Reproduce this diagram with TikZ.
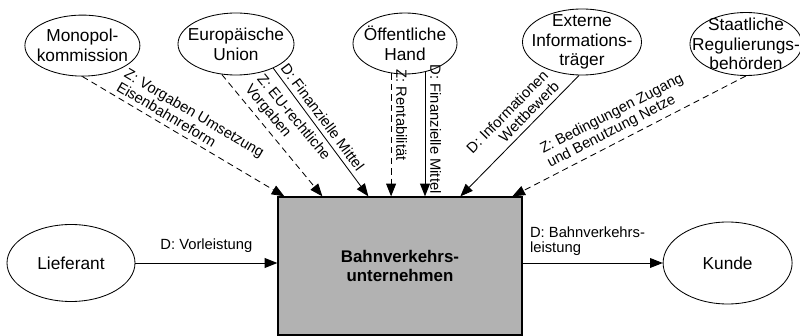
\documentclass[tikz,border=0pt]{standalone}
\usepackage{fontspec}
\setmainfont{Liberation Sans}
\usetikzlibrary{arrows.meta,shapes.geometric}

\begin{document}
\begin{tikzpicture}[
    party/.style={draw, ellipse, inner sep=0pt, line width=0.6pt},
    partytext/.style={align=center, font=\fontsize{12.3}{14}\selectfont},
    flow/.style={-{Triangle[length=9pt,width=7pt]}, line width=0.6pt},
    goal/.style={flow, dash pattern=on 4.5pt off 3pt},
    lbl/.style={font=\fontsize{10.5}{11}\selectfont},
    along/.style={lbl, sloped, above}
  ]
  \useasboundingbox (0,0) rectangle (20,8.4);
  % Unternehmen in der Mitte
  \node [draw, line width=0.9pt, fill=black!30, minimum width=6.1cm, minimum height=3.45cm,
         align=center, font=\fontsize{12}{13.5}\selectfont\bfseries] (bvu) at (10,1.75)
        {Bahnverkehrs-\\unternehmen};
  % Akteure rundherum
  \foreach \name/\pos/\ew/\eh/\txt in {
      mono/{2.06,7.26}/2.875/1.525/{Monopol-\\kommission},
      eu/{5.9,7.3}/2.9/1.55/{Europäische\\Union},
      oeff/{10.125,7.3125}/2.6/1.525/{Öffentliche\\Hand},
      ext/{14.55,7.35}/2.975/1.65/{Externe\\Informations-\\träger},
      reg/{18.65,7.3}/2.8/1.575/{Staatliche\\Regulierungs-\\behörden},
      lief/{1.775,1.825}/3.2/1.925/{Lieferant},
      kunde/{18.19,1.825}/3.225/2.05/{Kunde}} {
    \node [party, minimum width=\ew cm, minimum height=\eh cm] (\name) at (\pos) {};
    \node [partytext] (\name-txt) at (\name) {\txt};
  }
  % Z = Zielvorgaben (gestrichelt), D = Leistungen (durchgezogen)
  \draw [goal] (mono.south) -- node [along, pos=0.49, align=left]
        {Z: Vorgaben Umsetzung\\Eisenbahnreform} ([xshift=0.175cm]bvu.north west);
  \draw [goal] (eu.245) -- node [along, pos=0.5, align=left]
        {Z: EU-rechtliche\\Vorgaben} ([xshift=1.125cm]bvu.north west);
  \draw [flow] (eu.-33) -- node [along, pos=0.43]
        {D: Finanzielle Mittel} ([xshift=2.275cm]bvu.north west);
  \draw [goal] (oeff.245) -- node [lbl, pos=0.34, rotate=-90, anchor=south]
        {Z: Rentabilität} (oeff.245 |- bvu.north);
  \draw [flow] (oeff.305) -- node [lbl, pos=0.46, rotate=-90, anchor=south]
        {D: Finanzielle Mittel} (oeff.305 |- bvu.north);
  \draw [flow] (ext.265) -- node [along, pos=0.45, align=right]
        {D: Informationen\\Wettbewerb} ([xshift=4.575cm]bvu.north west);
  \draw [goal] (reg.south) -- node [along, pos=0.52, align=left]
        {Z: Bedingungen Zugang\\und Benutzung Netze} ([xshift=5.875cm]bvu.north west);
  \draw [flow] (lief) -- node [lbl, above=4pt] {D: Vorleistung} (lief -| bvu.west);
  \draw [flow] (bvu.east |- kunde) -- node [lbl, pos=0, anchor=south west, inner sep=5pt, align=left]
        {D: Bahnverkehrs-\\leistung} (kunde);
\end{tikzpicture}
\end{document}
